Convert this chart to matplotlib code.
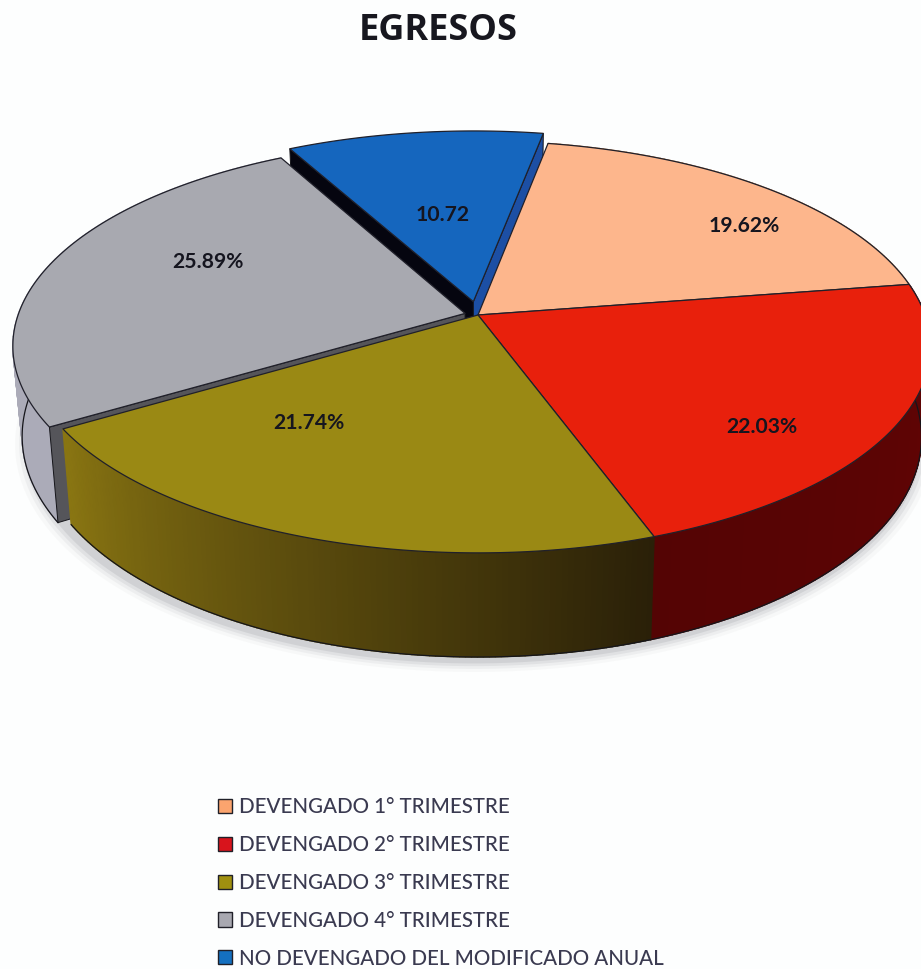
import numpy as np
import matplotlib
matplotlib.use("Agg")
import matplotlib.pyplot as plt
from matplotlib.patches import Patch

title = "EGRESOS"
categories = [
    "DEVENGADO 1° TRIMESTRE",
    "DEVENGADO 2° TRIMESTRE",
    "DEVENGADO 3° TRIMESTRE",
    "DEVENGADO 4° TRIMESTRE",
    "NO DEVENGADO DEL MODIFICADO ANUAL",
]
values = [19.62, 22.03, 21.74, 25.89, 10.72]
value_labels = ["19.62%", "22.03%", "21.74%", "25.89%", "10.72"]
top_colors = ["#FDB68C", "#E8200C", "#9A8914", "#A8A9B0", "#1566BE"]
legend_colors = ["#FBA46E", "#D8141C", "#A09010", "#A8A8B0", "#1470C0"]

# pixel geometry of the tilted pie
CX, CY = 478.0, 315.0
RX, RY = 447.0, 201.0
PERSP = 0.155
DEPTH = 88.0
START = 10.4
label_xy = [(744, 226), (762, 427), (309, 423), (208, 262), (443, 215)]


def project(u, v, z=0.0):
    s = 1.0 / (1.0 + PERSP * v)
    x = CX + RX * u * s * (1.0 - 0.02 * z)
    y = CY - RY * v * s + DEPTH * z * s
    return x, y


def rim(a0, a1, offset=(0.0, 0.0), n=120):
    a = np.radians(np.linspace(a0, a1, n))
    return np.sin(a) + offset[0], np.cos(a) + offset[1]


def shade(color, f):
    rgb = np.array(matplotlib.colors.to_rgb(color))
    return tuple(np.clip(rgb * f, 0, 1))


def draw_top(ax, a0, a1, color, offset=(0.0, 0.0)):
    u, v = rim(a0, a1, offset)
    x, y = project(np.r_[offset[0], u], np.r_[offset[1], v])
    ax.fill(x, y, fc=color, ec="#20202a", lw=0.9, joinstyle="round", zorder=5)


def draw_rim_wall(ax, a0, a1, shade_fn, offset=(0.0, 0.0)):
    u, v = rim(a0, a1, offset)
    xt, yt = project(u, v, 0.0)
    xb, yb = project(u, v, 1.0)
    for i in range(len(u) - 1):
        c = shade_fn((a0 + (a1 - a0) * i / (len(u) - 1)))
        ax.fill([xt[i], xt[i + 1], xb[i + 1], xb[i]], [yt[i], yt[i + 1], yb[i + 1], yb[i]],
                fc=c, ec=c, lw=1.0, zorder=4)
    ax.plot(xb, yb, color="#15151a", lw=0.9, zorder=4)


def draw_radial_wall(ax, a, color, offset=(0.0, 0.0)):
    ua, va = np.sin(np.radians(a)) + offset[0], np.cos(np.radians(a)) + offset[1]
    u = [offset[0], ua, ua, offset[0]]
    v = [offset[1], va, va, offset[1]]
    z = [0.0, 0.0, 1.0, 1.0]
    pts = [project(p, q, r) for p, q, r in zip(u, v, z)]
    ax.fill([p[0] for p in pts], [p[1] for p in pts], fc=color, ec="#15151a", lw=0.7, zorder=4)


fig = plt.figure(figsize=(9.21, 9.69), dpi=100, facecolor="#FDFEFE")
ax = fig.add_axes([0, 0, 1, 1])
ax.set_xlim(0, 921)
ax.set_ylim(969, 0)
ax.axis("off")

fractions = np.array(values) / np.sum(values)
edges = START + 360.0 * np.r_[0.0, np.cumsum(fractions)]
mids = 0.5 * (edges[:-1] + edges[1:])
explode = [0.0, 0.0, 0.0, 0.03, 0.068]
offsets = [(e * np.sin(np.radians(m)), e * np.cos(np.radians(m))) for e, m in zip(explode, mids)]

# soft shadow under the base
u, v = rim(0, 360, n=240)
sx, sy = project(u, v, 1.0)
for grow, alpha in zip([1.035, 1.026, 1.018, 1.01], [0.04, 0.07, 0.10, 0.14]):
    ax.fill(CX + (sx - CX) * grow - 4, CY + (sy - CY) * grow + 3, fc="#70757a", alpha=alpha, lw=0, zorder=1)


def red_shade(a):
    return shade("#5E0404", 0.85 + 0.2 * (90 - min(abs(a - 90), 90)) / 90)


def olive_shade(a):
    t = (a - edges[2]) / (edges[3] - edges[2])
    return tuple((1 - t) * np.array(matplotlib.colors.to_rgb("#2A2008")) + t * np.array(matplotlib.colors.to_rgb("#8A7612")))


def gray_shade(a):
    return shade("#ABABB8", 1.0)


def peach_shade(a):
    return shade("#B07A50", 1.0)


# exploded slices sit behind the rest
draw_radial_wall(ax, edges[4], "#05050F", offsets[4])
draw_radial_wall(ax, edges[5], "#1C4FA4", offsets[4])
draw_top(ax, edges[4], edges[5], top_colors[4], offsets[4])

draw_rim_wall(ax, edges[3], edges[4], gray_shade, offsets[3])
draw_radial_wall(ax, edges[3], "#55555A", offsets[3])
draw_top(ax, edges[3], edges[4], top_colors[3], offsets[3])

for i, sh in zip([0, 1, 2], [peach_shade, red_shade, olive_shade]):
    draw_rim_wall(ax, edges[i], edges[i + 1], sh)
for i in [0, 1, 2]:
    draw_top(ax, edges[i], edges[i + 1], top_colors[i])

for (lx, ly), lab in zip(label_xy, value_labels):
    ax.text(lx, ly, lab, ha="center", va="center", fontsize=15.2, fontweight="bold",
            family="Lato", color="#15151f", zorder=8)

ax.text(438, 31, title, ha="center", va="center", fontsize=26, fontweight="bold",
        family="Open Sans", color="#17171f")

handles = [Patch(fc=c, ec="#202028", lw=1.0) for c in legend_colors]
ax.legend(handles, categories, loc="upper left", bbox_to_anchor=(218, 797),
          bbox_transform=ax.transData, frameon=False, ncol=1, borderpad=0, borderaxespad=0,
          prop={"family": "Lato", "size": 14.8, "weight": "medium"}, labelcolor="#3A3A50",
          labelspacing=0.87, handlelength=0.68, handleheight=0.68, handletextpad=0.36)

fig.savefig("out.png", dpi=100, facecolor=fig.get_facecolor())
